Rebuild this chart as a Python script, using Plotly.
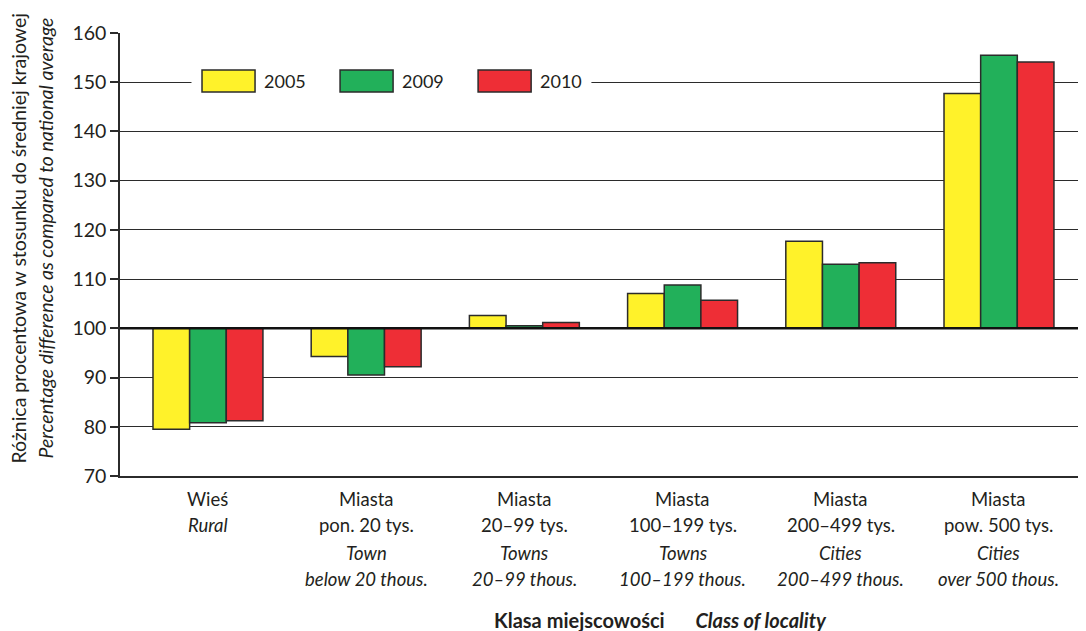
import plotly.graph_objects as go

# dane
categories = ["Wieś", "Miasta pon. 20 tys.", "Miasta 20–99 tys.", "Miasta 100–199 tys.",
              "Miasta 200–499 tys.", "Miasta pow. 500 tys."]
years = ["2005", "2009", "2010"]
v2005 = [79.5, 94.3, 102.6, 107.1, 117.7, 147.7]
v2009 = [80.8, 90.5, 100.5, 108.8, 113.0, 155.5]
v2010 = [81.2, 92.2, 101.2, 105.7, 113.3, 154.1]
base_value = 100

label_row1 = ["Wieś", "Miasta", "Miasta", "Miasta", "Miasta", "Miasta"]
label_row2 = ["<i>Rural</i>", "pon. 20 tys.", "20–99 tys.", "100–199 tys.", "200–499 tys.", "pow. 500 tys."]
label_row3 = ["", "<i>Town</i>", "<i>Towns</i>", "<i>Towns</i>", "<i>Cities</i>", "<i>Cities</i>"]
label_row4 = ["", "<i>below 20 thous.</i>", "<i>20–99 thous.</i>", "<i>100–199 thous.</i>",
              "<i>200–499 thous.</i>", "<i>over 500 thous.</i>"]

y_ticks = [70, 80, 90, 100, 110, 120, 130, 140, 150, 160]

colors = ["#FFF22A", "#22B05A", "#EE2E36"]
line_color = "#2b2b2b"
text_color = "#231f20"
font_family = "Lato"

fig = go.Figure()

for name, vals, color in zip(years, [v2005, v2009, v2010], colors):
    fig.add_trace(
        go.Bar(
            x=list(range(len(categories))),
            y=[v - base_value for v in vals],
            base=base_value,
            name=name,
            marker=dict(color=color, line=dict(color=line_color, width=1.5)),
            showlegend=False,
        )
    )

annotations = []
row_shifts = [-23, -49, -77, -103]
for rows, shift in zip([label_row1, label_row2, label_row3, label_row4], row_shifts):
    for i, txt in enumerate(rows):
        if not txt:
            continue
        annotations.append(
            dict(x=i, y=0, xref="x", yref="paper", text=txt, showarrow=False,
                 yanchor="middle", xanchor="center", yshift=shift,
                 font=dict(size=18.5, color=text_color))
        )

# tytuly osi
annotations.append(
    dict(x=0.56, y=0, xref="paper", yref="paper", yshift=-144, showarrow=False,
         text="<b>Klasa miejscowości</b>      <b><i>Class of locality</i></b>",
         font=dict(size=20, color=text_color), yanchor="middle")
)
annotations.append(
    dict(x=0, y=0.5, xref="paper", yref="paper", xshift=-102, yshift=16, showarrow=False,
         text="Różnica procentowa w stosunku do średniej krajowej", textangle=-90,
         font=dict(size=19.5, color=text_color), xanchor="center", yanchor="middle")
)
annotations.append(
    dict(x=0, y=0.5, xref="paper", yref="paper", xshift=-75, yshift=16, showarrow=False,
         text="<i>Percentage difference as compared to national average</i>", textangle=-90,
         font=dict(size=19.5, color=text_color), xanchor="center", yanchor="middle")
)

# legenda
shapes = [
    dict(type="line", xref="paper", yref="y", x0=0, x1=1, y0=base_value, y1=base_value,
         line=dict(color="#111111", width=2.5), layer="above"),
    dict(type="rect", xref="paper", yref="paper", x0=0.074, x1=0.488, y0=0.855, y1=0.93,
         fillcolor="white", line=dict(width=0), layer="above"),
]
leg_x0, leg_step, sw_w, leg_yc, sw_h = 0.0849, 0.1429, 0.0549, 0.8916, 0.0497
for k, (name, color) in enumerate(zip(years, colors)):
    x0 = leg_x0 + k * leg_step
    shapes.append(
        dict(type="rect", xref="paper", yref="paper", x0=x0, x1=x0 + sw_w,
             y0=leg_yc - sw_h / 2, y1=leg_yc + sw_h / 2, fillcolor=color,
             line=dict(color=line_color, width=1.5), layer="above")
    )
    annotations.append(
        dict(x=x0 + sw_w + 0.007, y=leg_yc, xref="paper", yref="paper", text=name,
             showarrow=False, xanchor="left", yanchor="middle",
             font=dict(size=18, color=text_color))
    )

fig.update_layout(
    width=1086,
    height=623,
    margin=dict(l=112, r=8, t=25, b=155),
    paper_bgcolor="white",
    plot_bgcolor="white",
    font=dict(family=font_family, size=18, color=text_color),
    barmode="group",
    bargap=0.305,
    bargroupgap=0,
    xaxis=dict(
        range=[-0.556, 5.55],
        showticklabels=False,
        showgrid=False,
        showline=True,
        linecolor=line_color,
        linewidth=1.5,
        ticks="",
        zeroline=False,
    ),
    yaxis=dict(
        range=[70, 160],
        tickvals=y_ticks,
        showgrid=True,
        gridcolor=line_color,
        gridwidth=1.3,
        showline=True,
        linecolor=line_color,
        linewidth=1.5,
        ticks="outside",
        ticklen=8,
        tickcolor=line_color,
        tickwidth=1.5,
        tickfont=dict(size=19.5),
        zeroline=False,
    ),
    shapes=shapes,
    annotations=annotations,
)

fig.write_html("out.html")
